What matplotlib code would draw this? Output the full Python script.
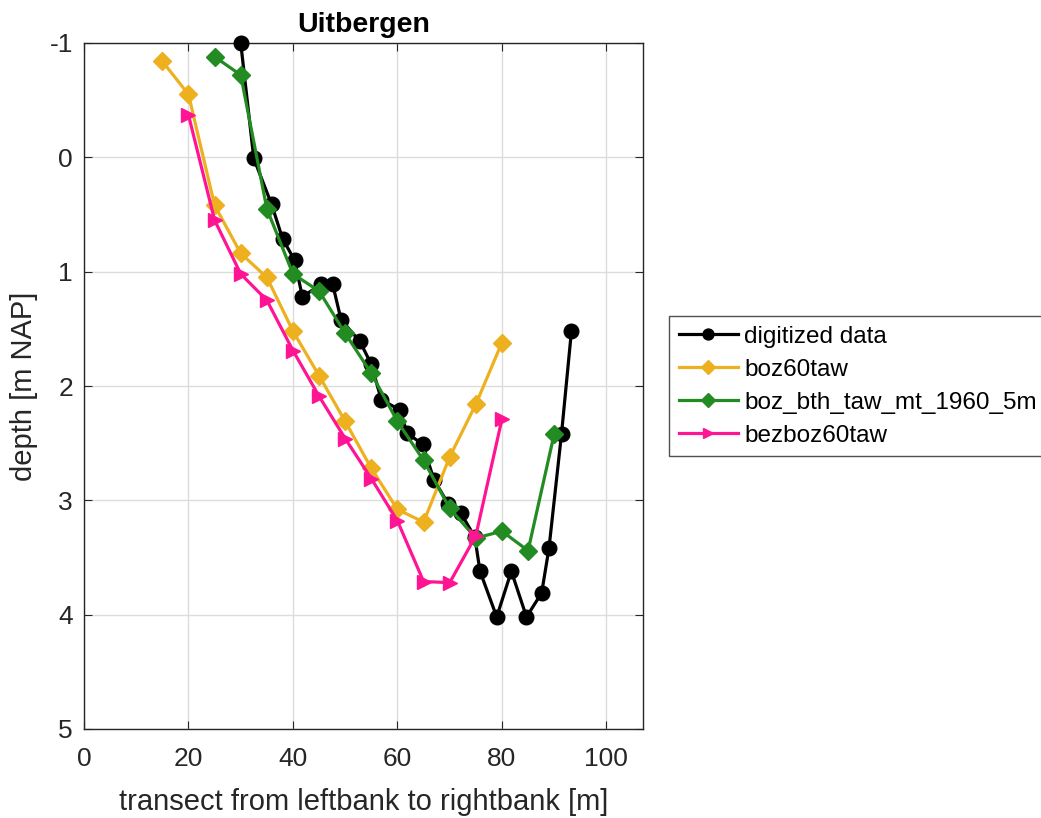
import matplotlib
matplotlib.use("Agg")
import matplotlib.pyplot as plt
from matplotlib.lines import Line2D

plt.rcParams['font.family'] = ['Liberation Sans', 'DejaVu Sans']
plt.rcParams['axes.unicode_minus'] = False

dig_x = [30, 32.5, 35.9, 38, 40.3, 41.8, 45.4, 47.6, 49.2, 52.8, 55, 56.9, 60.5, 61.8,
         64.8, 67, 69.7, 72.1, 74.8, 75.8, 79, 81.8, 84.7, 87.6, 89, 91.4, 93.3]
dig_y = [-1.0, 0.01, 0.41, 0.71, 0.90, 1.22, 1.11, 1.11, 1.42, 1.61, 1.81, 2.12, 2.21, 2.41,
         2.51, 2.82, 3.03, 3.11, 3.32, 3.62, 4.02, 3.62, 4.02, 3.81, 3.42, 2.42, 1.52]

# boz60taw
boz_x = [15, 20, 25, 30, 35, 40, 45, 50, 55, 60, 65, 70, 75, 80]
boz_y = [-0.84, -0.55, 0.42, 0.84, 1.05, 1.52, 1.91, 2.31, 2.72, 3.08, 3.19, 2.62, 2.16, 1.62]

# boz_bth_taw_mt_1960_5m
bth_x = [25, 30, 35, 40, 45, 50, 55, 60, 65, 70, 75, 80, 85, 90]
bth_y = [-0.88, -0.72, 0.45, 1.02, 1.17, 1.54, 1.89, 2.31, 2.65, 3.07, 3.33, 3.27, 3.44, 2.42]

# bezboz60taw
bez_x = [20, 25, 30, 35, 40, 45, 50, 55, 60, 65, 70, 75, 80]
bez_y = [-0.37, 0.55, 1.02, 1.25, 1.69, 2.09, 2.46, 2.81, 3.18, 3.71, 3.72, 3.31, 2.29]

labels = ['digitized data', 'boz60taw', 'boz_bth_taw_mt_1960_5m', 'bezboz60taw']
colors = ['#000000', '#EDB120', '#228B22', '#FF1493']
markers = ['o', 'D', 'D', '>']

fig = plt.figure(figsize=(10.41, 8.18), dpi=100)
ax = fig.add_axes([84/1041, 1 - 729/818, (643-84)/1041, (729-43)/818])

series = [(dig_x, dig_y), (boz_x, boz_y), (bth_x, bth_y), (bez_x, bez_y)]
msizes = [10.5, 9, 9, 10.5]
handles = []
for (xs, ys), lab, c, m, ms in zip(series, labels, colors, markers, msizes):
    ax.plot(xs, ys, color=c, marker=m, markersize=ms, linewidth=2.3,
            clip_on=False, zorder=3, label=lab)
    handles.append(Line2D([], [], color=c, marker=m, markersize=ms*0.75, linewidth=2.3))

ax.set_xlim(0, 107)
ax.set_ylim(5, -1)
ax.set_xticks([0, 20, 40, 60, 80, 100])
ax.set_yticks([-1, 0, 1, 2, 3, 4, 5])
ax.grid(True, color='#dcdcdc', linewidth=1)
ax.set_axisbelow(True)
ax.tick_params(direction='in', top=True, right=True, labelsize=19, length=6,
               colors='#262626', pad=8)
ax.tick_params(axis='x', pad=13)
for s in ax.spines.values():
    s.set_color('#262626')
    s.set_linewidth(1)

ax.set_xlabel('transect from leftbank to rightbank [m]', fontsize=21, color='#262626', labelpad=12)
ax.set_ylabel('depth [m NAP]', fontsize=21, color='#262626', labelpad=8)
ax.set_title('Uitbergen', fontsize=20.5, fontweight='bold', color='#000000', pad=8)

leg = fig.legend(handles, labels, loc='upper left', bbox_to_anchor=(669/1041, 1 - 316/818),
                 fontsize=17.5, frameon=True, fancybox=False, handlelength=2.45,
                 borderpad=0.4, labelspacing=0.45, handletextpad=0.25, borderaxespad=0)
leg.get_frame().set_edgecolor('#262626')
leg.get_frame().set_linewidth(1)

fig.savefig('out.png', dpi=100)
